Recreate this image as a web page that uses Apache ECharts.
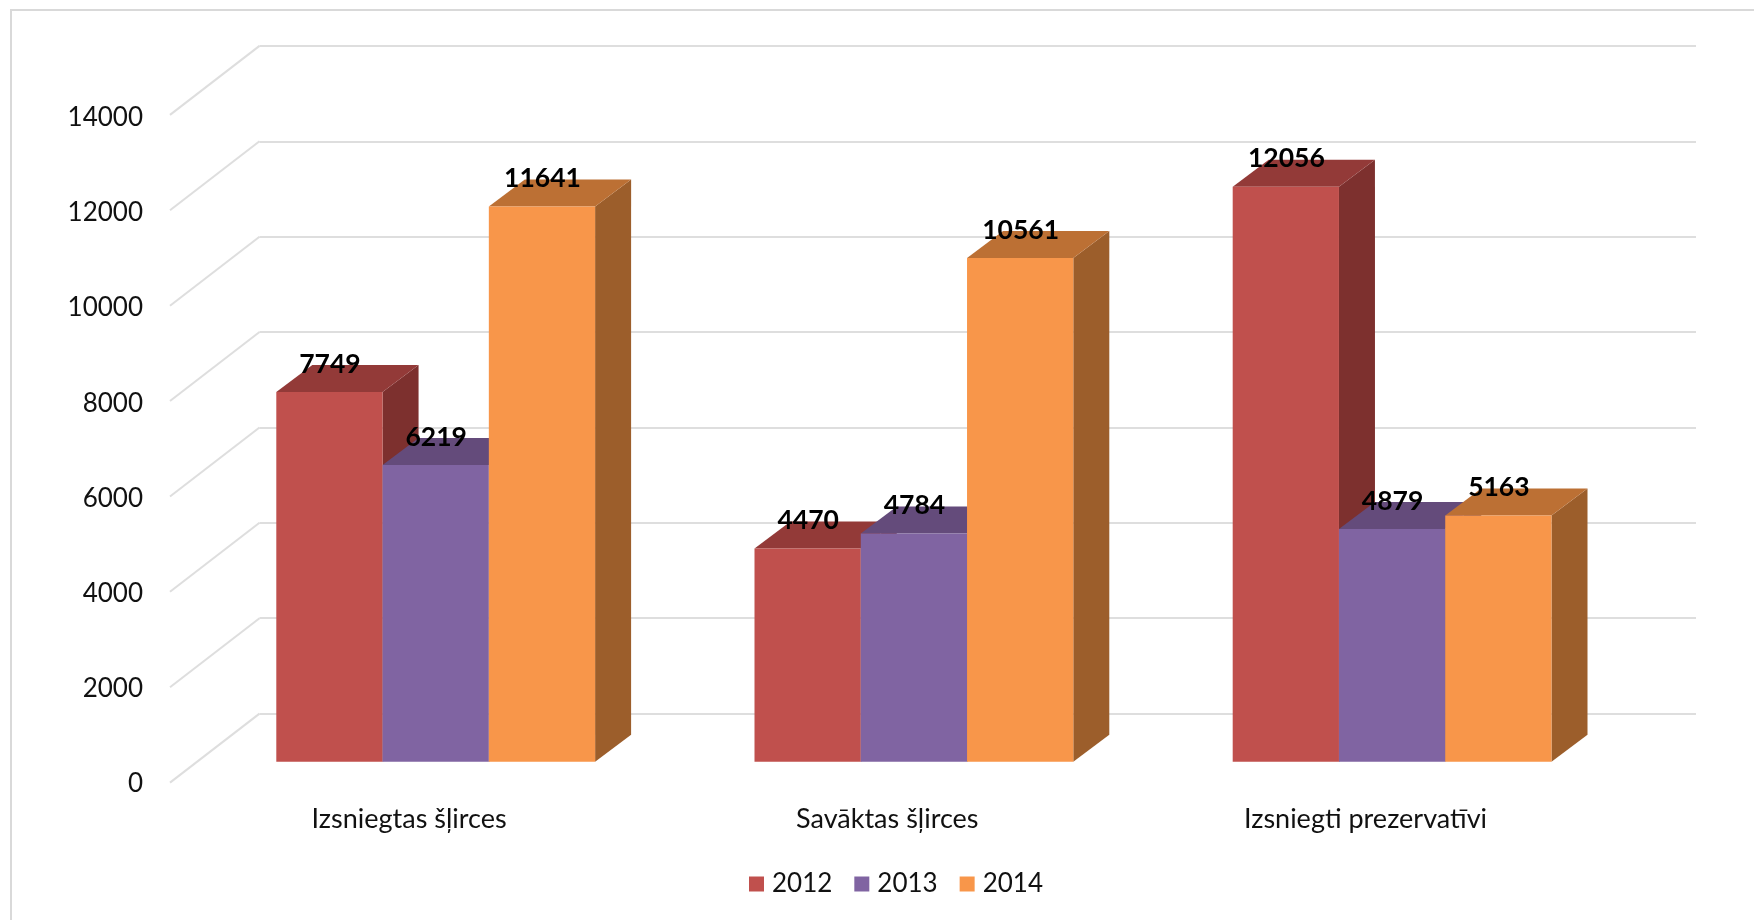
<!DOCTYPE html>
<html>
<head>
<meta charset="utf-8">
<style>html,body{margin:0;padding:0;background:#fff}#c{width:1754px;height:920px}</style>
<script src="https://cdn.jsdelivr.net/npm/echarts@6/dist/echarts.min.js"></script>
</head>
<body>
<div id="c"></div>
<script>
const categories = ['Izsniegtas šļirces', 'Savāktas šļirces', 'Izsniegti prezervatīvi'];
const years = ['2012', '2013', '2014'];
const values2012 = [7749, 4470, 12056];
const values2013 = [6219, 4784, 4879];
const values2014 = [11641, 10561, 5163];
const axisTicks = [0, 2000, 4000, 6000, 8000, 10000, 12000, 14000];
const frontColors = ['#C0504D', '#8064A2', '#F8964A'];
const topColors = ['#933A38', '#644B7B', '#BC7034'];
const sideColors = ['#7D302E', '#53406A', '#9C5E2B'];

const FONT = 'Lato';
const DEPTH_X = 36, DEPTH_Y = 27;       // bar extrusion
const FLOOR_X = -89.5, FLOOR_Y = 69;    // wall-to-front floor offset
const GRID_LINE = '#DEDEDE';
const yMax = 14000, yStep = 2000;

const chart = echarts.init(document.getElementById('c'), null, {renderer: 'canvas'});

function barSeries(name, values, idx) {
  return {
    name, type: 'custom', xAxisIndex: 1, yAxisIndex: 1, z: 3 + idx,
    itemStyle: {color: frontColors[idx]},
    encode: {x: 0, y: 1},
    data: values.map((v, i) => [i, v]),
    renderItem(params, api) {
      const v = api.value(1);
      const band = api.size([1, 0])[0];
      const w = band / 4.5;
      const c = api.coord([api.value(0), v]);
      const base = api.coord([api.value(0), 0]);
      const x0 = c[0] - 1.5 * w + idx * w, x1 = x0 + w, yt = c[1], yb = base[1];
      const poly = (points, fill) => ({type: 'polygon', shape: {points}, style: {fill}});
      return {type: 'group', children: [
        poly([[x1, yt], [x1 + DEPTH_X, yt - DEPTH_Y], [x1 + DEPTH_X, yb - DEPTH_Y], [x1, yb]], sideColors[idx]),
        poly([[x0, yt], [x0 + DEPTH_X, yt - DEPTH_Y], [x1 + DEPTH_X, yt - DEPTH_Y], [x1, yt]], topColors[idx]),
        poly([[x0, yt], [x1, yt], [x1, yb], [x0, yb]], frontColors[idx]),
        {type: 'text', z2: 100, style: {
          text: String(v), x: (x0 + x1) / 2 + 0.5, y: yt - DEPTH_Y - 1,
          align: 'center', verticalAlign: 'middle',
          font: 'bold 26.5px ' + FONT, fill: '#000'
        }}
      ]};
    }
  };
}

const wallGrid = {left: 259.5, top: 45.9, width: 1436.5, height: 667.7};
const barGrid = {left: 196.6, top: 93.9, width: 1434.6, height: 667.9};
const labelGrid = {left: 170, top: 117.4, width: 1434.6, height: 666.7};

chart.setOption({
  animation: false,
  backgroundColor: '#fff',
  graphic: [{type: 'rect', silent: true, z: 0,
    shape: {x: 11, y: 10, width: 1900, height: 1100},
    style: {fill: 'none', stroke: '#D9D9D9', lineWidth: 2}}],
  legend: {
    data: years, left: 744, top: 866, itemWidth: 15, itemHeight: 15, itemGap: 22,
    icon: 'rect', textStyle: {fontFamily: FONT, fontSize: 26, color: '#111', padding: [0, 0, 0, 3]}
  },
  grid: [wallGrid, barGrid, labelGrid],
  xAxis: [
    {gridIndex: 0, type: 'value', min: 0, max: 1, show: false},
    {gridIndex: 1, type: 'category', data: categories, show: false},
    {gridIndex: 2, type: 'category', data: categories,
     axisLine: {show: false}, axisTick: {show: false}, splitLine: {show: false},
     axisLabel: {margin: 21.5, fontFamily: FONT, fontSize: 27, color: '#111'}}
  ],
  yAxis: [
    {gridIndex: 0, type: 'value', min: 0, max: yMax, interval: yStep,
     axisLine: {show: false}, axisTick: {show: false}, axisLabel: {show: false},
     splitLine: {show: true, lineStyle: {color: GRID_LINE, width: 2}}},
    {gridIndex: 1, type: 'value', min: 0, max: yMax, interval: yStep, show: false},
    {gridIndex: 2, type: 'value', min: 0, max: yMax, interval: yStep,
     axisLine: {show: false}, axisTick: {show: false}, splitLine: {show: false},
     axisLabel: {margin: 27, fontFamily: FONT, fontSize: 26, color: '#111', formatter: v => String(v)}}
  ],
  series: [
    {
      name: 'floor', type: 'custom', xAxisIndex: 0, yAxisIndex: 0, z: 1, silent: true,
      encode: {x: 0, y: 1},
      data: axisTicks.map(t => [0, t]),
      renderItem(params, api) {
        const p = api.coord([0, api.value(1)]);
        return {type: 'line',
          shape: {x1: p[0], y1: p[1], x2: p[0] + FLOOR_X, y2: p[1] + FLOOR_Y},
          style: {stroke: GRID_LINE, lineWidth: 2, fill: 'none'}};
      }
    },
    barSeries(years[0], values2012, 0),
    barSeries(years[1], values2013, 1),
    barSeries(years[2], values2014, 2)
  ]
});
</script>
</body>
</html>
